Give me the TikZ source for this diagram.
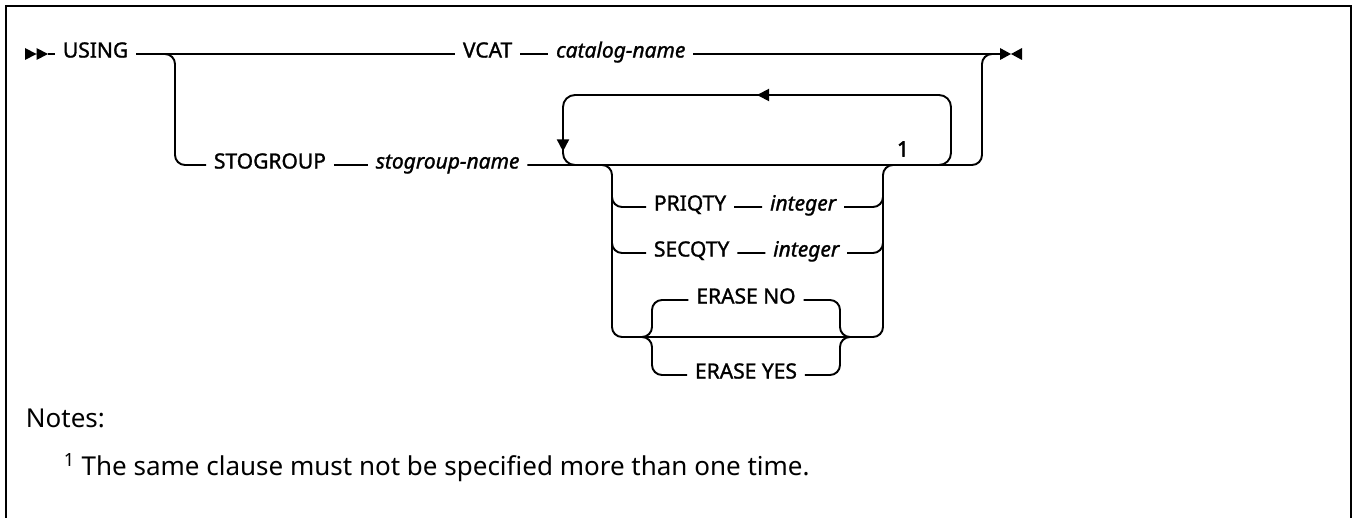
\documentclass[tikz,border=0pt]{standalone}
\usepackage{fontspec}
\setmainfont{Noto Sans}
\newfontfamily\railfont[FakeBold=1.3]{Noto Sans}
\newfontfamily\flagfont[FakeBold=2.5]{Noto Sans}
\usetikzlibrary{arrows.meta,decorations.markings,calc,positioning}

\begin{document}
\begin{tikzpicture}[x=1pt,y=-1pt,line width=1.9pt,
    kw/.style={inner xsep=7pt,inner ysep=0pt,text height=0.71em,text depth=0pt,font=\fontsize{21}{25}\railfont},
    var/.style={kw,font=\fontsize{21}{25}\railfont\itshape},
    note/.style={anchor=west,inner sep=0pt,text height=0.71em,text depth=0pt,font=\fontsize{26}{32}\selectfont},
    rail/.style={rounded corners=10pt},
    repeatloop/.style={rounded corners=12pt,postaction={decorate},decoration={markings,
        mark=at position 0.5 with {\arrow{Triangle[length=12pt,width=12pt]}},
        mark=at position 0.94 with {\arrow{Triangle[length=12pt,width=12pt]}}}}]
    \useasboundingbox (0,0) rectangle (1353,518);
    \draw[line width=2.2pt] (6,518) -- (6,6) -- (1351,6) -- (1351,518);

    \coordinate (start) at (48,54);
    \coordinate (endpt) at (1000,54);
    \fill[shift={(start)}] (-23,-6) -- (-11.5,0) -- (-23,6) -- cycle (-11.5,-6) -- (0,0) -- (-11.5,6) -- cycle;
    \fill[shift={(endpt)}] (0,-6) -- (11,0) -- (0,6) -- cycle (22,-6) -- (11,0) -- (22,6) -- cycle;

    \node[kw,anchor=west] (using) at (55,54) {USING};
    \node[kw,anchor=west] (vcat) at (455,54) {VCAT};
    \node[var,right=28pt of vcat] (catname) {catalog-name};
    \draw (start) -- (using) -- (vcat);
    \draw (vcat) -- (catname) -- (endpt);

    \node[kw,anchor=west] (stogroup) at (206,165) {STOGROUP};
    \node[var,right=34pt of stogroup] (sgname) {stogroup-name};
    \coordinate (split) at (175,54);
    \coordinate (merge) at (982,54);
    \draw[rail] ($(split)+(-10,0)$) -- (split) -- (split |- stogroup) -- (stogroup);
    \draw (stogroup) -- (sgname);
    \draw[rail] (sgname) -- (merge |- sgname) -- (merge) -- ($(merge)+(10,0)$);

    \coordinate (loopL) at (563,95);
    \coordinate (loopR) at (951,95);
    \draw[repeatloop] ($(loopR |- sgname)+(-25,0)$) -- (loopR |- sgname) -- (loopR) -- (loopL) -- (loopL |- sgname) -- ($(loopL |- sgname)+(25,0)$);
    \node[font=\fontsize{21}{24}\flagfont] (fn) at (903,149) {1};

    \coordinate (optL) at (612,165);
    \coordinate (optR) at (883,165);
    \coordinate (eraseL) at (652,337);
    \coordinate (eraseR) at (840,337);
    \draw[rail] ($(optL)+(-12,0)$) -- (optL) -- (optL |- eraseL) -- (optR |- eraseL) -- (optR) -- ($(optR)+(12,0)$);

    \foreach \kwd/\nm/\yy in {PRIQTY/pri/207,SECQTY/sec/253} {
        \node[kw,anchor=west] (\nm) at (646,\yy) {\kwd};
        \node[var,right=28pt of \nm] (int\nm) {integer};
        \draw[rail] ($(optL |- \nm)+(0,-15)$) -- (optL |- \nm) -- (\nm) -- (int\nm) -- (optR |- \nm) -- ($(optR |- \nm)+(0,-15)$);
    }

    \node[kw] (eraseno) at (746,300) {ERASE NO};
    \node[kw] (eraseyes) at (746,375) {ERASE YES};
    \draw[rail] ($(eraseL)+(-10,0)$) -- (eraseL) -- (eraseL |- eraseno) -- (eraseno) -- (eraseR |- eraseno) -- (eraseR) -- ($(eraseR)+(10,0)$);
    \draw[rail] ($(eraseL)+(-10,0)$) -- (eraseL) -- (eraseL |- eraseyes) -- (eraseyes) -- (eraseR |- eraseyes) -- (eraseR) -- ($(eraseR)+(10,0)$);

    \node[note] (notes) at (25,423.5) {Notes:};
    \node[note] (note1) at (63,472) {\textsuperscript{1} The same clause must not be specified more than one time.};
\end{tikzpicture}
\end{document}
